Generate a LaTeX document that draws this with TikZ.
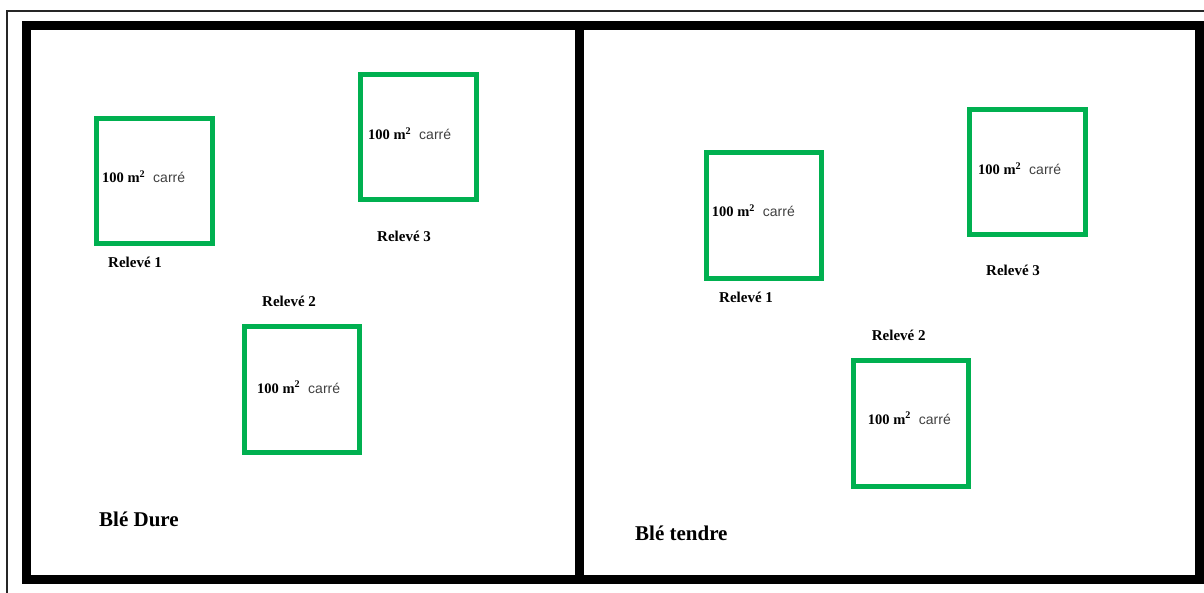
\documentclass[tikz,border=0pt]{standalone}
\usepackage{fontspec}
\setmainfont{Liberation Serif}
\setsansfont{Liberation Sans}
\usepackage{tikz}
\definecolor{plotgreen}{RGB}{0,176,80}
\newcommand{\surfcarre}{\textbf{100 m\textsuperscript{2}}\hspace{8pt}{\sffamily\fontsize{14}{16}\selectfont\color{black!75}carré}}

\begin{document}
\begin{tikzpicture}[x=1pt,y=-1pt,
  frame/.style={line width=9pt,black},
  plot/.style={line width=5pt,plotgreen},
  surf/.style={anchor=base west,inner sep=0pt,font=\fontsize{14.5}{16}\selectfont},
  releve/.style={anchor=base west,inner sep=0pt,font=\bfseries\fontsize{15}{16}\selectfont},
  field/.style={anchor=base west,inner sep=0pt,font=\bfseries\fontsize{21}{24}\selectfont}]
  \useasboundingbox (0,0) rectangle (1204,593);
 % \draw[thin,gray!40] (0,0) grid[step=50] (1204,593);
  \draw[line width=1.6pt,black!85] (7,593)--(7,11)--(1204,11);
  \draw[frame] (26,26) rectangle (1199,579.5);
  \draw[frame] (579.5,26)--(579.5,579.5);
  % Ble dure
  \draw[plot] (96.5,118.5) rectangle (212.5,244);
  \draw[plot] (244,326.5) rectangle (359,452.5);
  \draw[plot] (360.5,74.5) rectangle (476.5,199.5);
  \node[surf] (dsurf1) at (102,183) {\surfcarre};
  \node[surf] (dsurf2) at (257,393) {\surfcarre};
  \node[surf] (dsurf3) at (368,140) {\surfcarre};
  \node[releve] (drel1) at (108,267.7) {Relevé 1};
  \node[releve] (drel2) at (262,306.4) {Relevé 2};
  \node[releve] (drel3) at (377,241.7) {Relevé 3};
  \node[field] (dure) at (99,526.7) {Blé Dure};
  % Ble tendre
  \draw[plot] (706,153) rectangle (821.5,279);
  \draw[plot] (853.2,360.8) rectangle (968.5,486.8);
  \draw[plot] (969.8,109.8) rectangle (1085.8,234.8);
  \node[surf] (tsurf1) at (711.7,216.7) {\surfcarre};
  \node[surf] (tsurf2) at (867.7,424) {\surfcarre};
  \node[surf] (tsurf3) at (978,175) {\surfcarre};
  \node[releve] (trel1) at (719,302.4) {Relevé 1};
  \node[releve] (trel2) at (871.7,340.7) {Relevé 2};
  \node[releve] (trel3) at (986,275.4) {Relevé 3};
  \node[field] (tendre) at (635,540) {Blé tendre};
\end{tikzpicture}
\end{document}
